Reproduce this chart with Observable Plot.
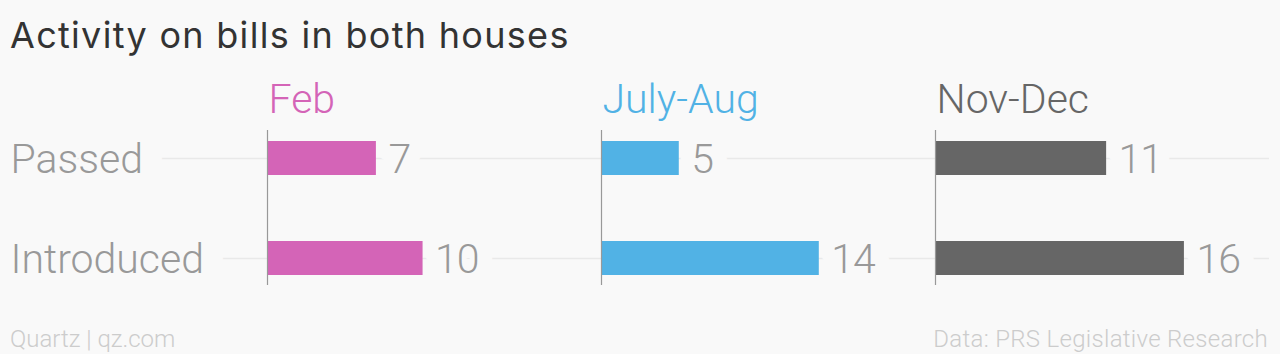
<!DOCTYPE html>
<html>
<head>
<meta charset="utf-8">
<script src="https://cdn.jsdelivr.net/npm/d3@7"></script>
<script src="https://cdn.jsdelivr.net/npm/@observablehq/plot@0.6"></script>
<style>
  html, body { margin: 0; padding: 0; background: #f9f9f9; }
  #wrap { position: relative; width: 1280px; height: 354px; overflow: hidden; }
  #title { position: absolute; left: 10px; top: 17px; font-family: Inter, Roboto, sans-serif; font-weight: 400; font-size: 36px; line-height: 36px; letter-spacing: 1.3px; color: #333; white-space: nowrap; }
  #chart { position: absolute; left: 0; top: 70px; }
  .foot { position: absolute; top: 327px; font-family: Roboto, sans-serif; font-weight: 300; font-size: 24px; line-height: 24px; color: #cccccc; white-space: nowrap; }
  #src { right: 12px; letter-spacing: 0.3px; }
  #credit { left: 10px; }
  .vals text { letter-spacing: -1px; }
</style>
</head>
<body>
<div id="wrap">
  <div id="title">Activity on bills in both houses</div>
  <div id="chart"></div>
  <div class="foot" id="credit">Quartz | qz.com</div>
  <div class="foot" id="src">Data: PRS Legislative Research</div>
</div>
<script>
const periods = ["Feb", "July-Aug", "Nov-Dec"];
const categories = ["Passed", "Introduced"];
const passed = [7, 5, 11];
const introduced = [10, 14, 16];
const colors = ["#d464b7", "#51b2e5", "#666666"];

const bg = "#f9f9f9";
const gridColor = "#e9e9e9";
const labelColor = "#999999";

const data = [];
periods.forEach((p, i) => {
  data.push({period: p, category: categories[0], value: passed[i]});
  data.push({period: p, category: categories[1], value: introduced[i]});
});

const chart = Plot.plot({
  width: 1280,
  height: 240,
  marginTop: 60,
  marginBottom: 25,
  marginLeft: 267,
  marginRight: 11,
  style: {background: "transparent", fontFamily: "Roboto, sans-serif", overflow: "visible"},
  fx: {domain: periods, padding: 0, axis: null, label: null},
  x: {domain: [0, 21.47], axis: null},
  y: {domain: categories, paddingInner: 0.66, paddingOuter: 0.105, axis: null},
  color: {domain: periods, range: colors},
  marks: [
    Plot.ruleY(categories, {y: d => d, stroke: gridColor, strokeWidth: 1.5}),
    Plot.axisY(categories, {tickSize: 267, fill: "none", stroke: gridColor, strokeWidth: 1.5, label: null}),
    Plot.text(categories, {
      fx: () => periods[0], y: d => d, text: d => d,
      frameAnchor: "left", textAnchor: "start", dx: -257, dy: 1,
      fill: labelColor, fontSize: 41, fontWeight: 300,
      stroke: bg, strokeWidth: 44, strokeLinejoin: "round", paintOrder: "stroke"
    }),
    Plot.text(data, {
      fx: "period", y: "category", x: "value", text: d => String(d.value),
      textAnchor: "start", dx: 12, dy: 1, className: "vals",
      fill: labelColor, fontSize: 41, fontWeight: 300,
      stroke: bg, strokeWidth: 30, strokeLinejoin: "round", paintOrder: "stroke"
    }),
    Plot.barX(data, {fx: "period", y: "category", x: "value", fill: "period"}),
    Plot.ruleX([0], {stroke: "#999", strokeWidth: 1.2}),
    Plot.text(periods, {
      fx: d => d, text: d => d, fill: d => d,
      frameAnchor: "top-left", lineAnchor: "top", textAnchor: "start", dx: 1, dy: -47,
      fontSize: 41, fontWeight: 300
    })
  ]
});
document.getElementById("chart").appendChild(chart);
</script>
</body>
</html>
